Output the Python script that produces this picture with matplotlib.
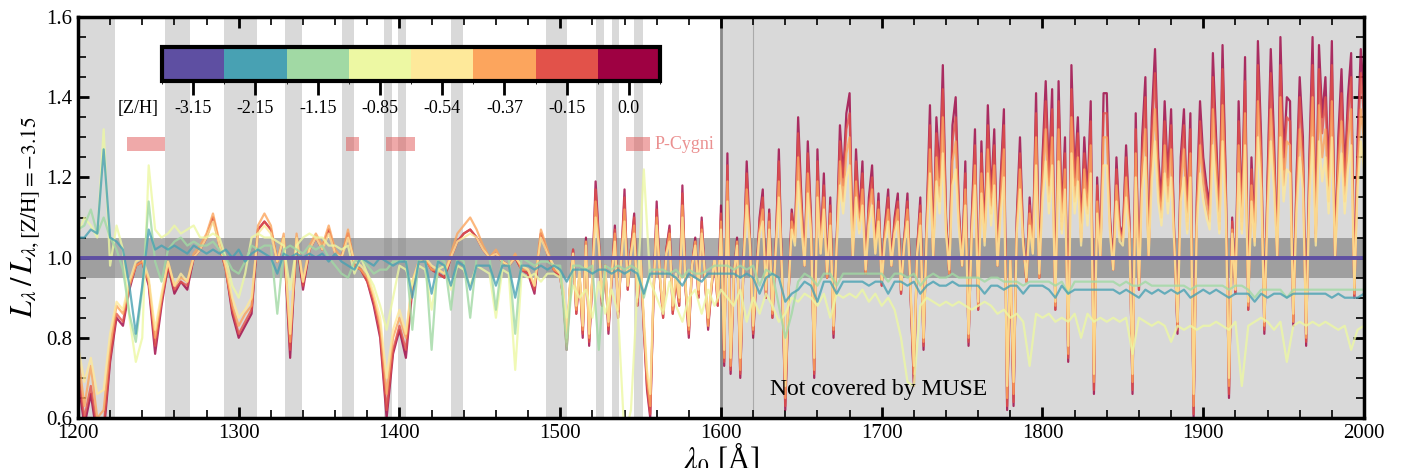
import numpy as np
import matplotlib
matplotlib.use("Agg")
import matplotlib.pyplot as plt
from matplotlib.ticker import MultipleLocator, FormatStrFormatter
from matplotlib.colors import ListedColormap, BoundaryNorm
from matplotlib.cm import ScalarMappable

plt.rcParams["font.family"] = ["Liberation Serif", "DejaVu Serif"]
plt.rcParams["mathtext.fontset"] = "stix"

# metallicities and colorbar labels
zh = [-3.15, -2.15, -1.15, -0.85, -0.54, -0.37, -0.15, 0.0]
zh_labels = ["-3.15", "-2.15", "-1.15", "-0.85", "-0.54", "-0.37", "-0.15", "0.0"]

# wavelength grids (Angstrom): 4 A steps for the low-Z models,
# metal rich models read at 4 A below 1500 A and 2 A above
wave = np.arange(1200, 2001, 4)
wave_hot = np.concatenate([np.arange(1200, 1501, 4), np.arange(1502, 2001, 2)])

# L_lambda / L_lambda([Z/H]=-3.15)
ratio_m315 = [1.0] * len(wave)

ratio_m215 = [
    1.05, 1.05, 1.07, 1.06, 1.27, 1.05, 1.04, 1.02, 0.93, 0.81,
    0.93, 1.07, 1.02, 1.03, 1.02, 1.03, 1.02, 1.01, 1.03, 1.02,
    1.01, 1.02, 1.01, 1.02, 1.00, 1.02, 0.99, 1.01, 1.02, 1.01,
    1.00, 0.96, 1.01, 1.00, 1.01, 1.00, 1.01, 1.00, 1.01, 0.99,
    1.01, 0.99, 0.98, 0.97, 1.00, 0.99, 0.98, 1.00, 0.99, 0.98,
    0.99, 0.99, 0.90, 0.99, 0.99, 0.91, 0.99, 0.98, 0.93, 0.99,
    0.98, 0.92, 0.98, 0.98, 0.98, 0.93, 0.98, 0.98, 0.90, 0.98,
    0.98, 0.97, 0.98, 0.97, 0.98, 0.97, 0.94, 0.97, 0.97, 0.97,
    0.96, 0.97, 0.97, 0.96, 0.97, 0.96, 0.97, 0.96, 0.91, 0.96,
    0.96, 0.96, 0.96, 0.95, 0.93, 0.96, 0.95, 0.94, 0.96, 0.96,
    0.96, 0.96, 0.96, 0.95, 0.96, 0.95, 0.91, 0.95, 0.96, 0.95,
    0.89, 0.91, 0.92, 0.94, 0.93, 0.89, 0.94, 0.94, 0.91, 0.94,
    0.94, 0.94, 0.94, 0.93, 0.94, 0.94, 0.91, 0.94, 0.94, 0.93,
    0.94, 0.91, 0.93, 0.94, 0.93, 0.93, 0.94, 0.93, 0.93, 0.93,
    0.93, 0.91, 0.93, 0.93, 0.92, 0.93, 0.93, 0.91, 0.93, 0.93,
    0.93, 0.92, 0.90, 0.93, 0.91, 0.92, 0.92, 0.92, 0.92, 0.92,
    0.92, 0.92, 0.91, 0.92, 0.91, 0.90, 0.92, 0.91, 0.92, 0.91,
    0.92, 0.91, 0.92, 0.90, 0.91, 0.92, 0.91, 0.92, 0.91, 0.90,
    0.91, 0.91, 0.91, 0.89, 0.91, 0.90, 0.91, 0.91, 0.90, 0.91,
    0.91, 0.91, 0.91, 0.91, 0.91, 0.90, 0.91, 0.90, 0.90, 0.90,
    0.91,
]

ratio_m115 = [
    1.07, 1.08, 1.12, 1.06, 1.10, 1.05, 1.02, 0.97, 0.86, 0.79,
    0.92, 1.14, 0.99, 0.94, 1.02, 1.04, 1.05, 1.03, 1.04, 1.03,
    1.03, 1.04, 1.02, 1.00, 0.97, 0.96, 0.99, 1.03, 1.02, 1.03,
    1.03, 0.86, 1.02, 1.03, 1.02, 1.01, 1.03, 1.02, 1.03, 1.00,
    0.98, 0.96, 0.95, 0.99, 1.00, 0.98, 0.96, 0.97, 0.97, 0.99,
    0.99, 1.00, 0.82, 1.00, 1.00, 0.77, 1.00, 0.99, 0.87, 1.00,
    0.99, 0.85, 1.00, 1.00, 1.00, 0.87, 1.00, 1.00, 0.81, 1.00,
    0.99, 0.98, 0.99, 0.99, 0.98, 0.98, 0.77, 0.98, 0.98, 0.97,
    0.98, 0.77, 0.98, 0.97, 0.98, 0.97, 0.98, 0.97, 0.90, 0.97,
    0.97, 0.97, 0.96, 0.97, 0.95, 0.97, 0.96, 0.96, 0.97, 0.98,
    0.98, 0.98, 0.97, 0.98, 0.97, 0.98, 0.93, 0.97, 0.96, 0.88,
    0.80, 0.86, 0.94, 0.96, 0.95, 0.93, 0.96, 0.96, 0.93, 0.96,
    0.96, 0.96, 0.96, 0.96, 0.96, 0.96, 0.94, 0.96, 0.96, 0.95,
    0.96, 0.93, 0.95, 0.96, 0.95, 0.95, 0.96, 0.95, 0.95, 0.95,
    0.95, 0.94, 0.95, 0.95, 0.94, 0.94, 0.94, 0.93, 0.94, 0.94,
    0.94, 0.94, 0.93, 0.94, 0.91, 0.94, 0.94, 0.94, 0.94, 0.94,
    0.94, 0.94, 0.93, 0.94, 0.93, 0.93, 0.94, 0.93, 0.93, 0.93,
    0.93, 0.93, 0.93, 0.92, 0.93, 0.93, 0.93, 0.93, 0.93, 0.92,
    0.93, 0.93, 0.92, 0.90, 0.92, 0.92, 0.92, 0.92, 0.90, 0.92,
    0.92, 0.92, 0.92, 0.92, 0.92, 0.92, 0.92, 0.92, 0.92, 0.92,
    0.92,
]

ratio_m085 = [
    1.06, 1.10, 1.08, 1.05, 1.32, 0.98, 1.08, 1.02, 0.85, 0.74,
    0.80, 1.23, 1.07, 1.05, 1.06, 1.08, 1.06, 1.07, 1.08, 1.05,
    1.05, 1.06, 1.05, 1.00, 0.93, 0.90, 0.96, 1.05, 1.06, 1.05,
    1.05, 1.04, 1.03, 0.92, 1.03, 1.05, 1.06, 1.05, 1.05, 1.03,
    1.03, 1.02, 1.03, 0.96, 1.00, 0.96, 0.93, 0.88, 0.82, 0.90,
    0.98, 0.97, 0.93, 0.98, 0.97, 0.87, 0.97, 0.98, 0.92, 0.98,
    0.97, 0.93, 0.98, 0.97, 0.96, 0.85, 0.97, 0.96, 0.72, 0.96,
    0.95, 0.96, 0.94, 0.96, 0.96, 0.95, 0.85, 0.93, 0.90, 0.92,
    0.85, 0.94, 0.86, 0.92, 0.86, 0.55, 0.62, 0.92, 1.22, 0.94,
    0.90, 0.86, 0.94, 0.88, 0.84, 0.90, 0.92, 0.86, 0.92, 0.88,
    0.92, 0.90, 0.88, 0.92, 0.84, 0.90, 0.86, 0.91, 0.88, 0.84,
    0.86, 0.90, 0.89, 0.91, 0.90, 0.88, 0.91, 0.85, 0.91, 0.90,
    0.91, 0.90, 0.92, 0.89, 0.91, 0.88, 0.90, 0.87, 0.80, 0.69,
    0.68, 0.88, 0.90, 0.89, 0.88, 0.89, 0.88, 0.89, 0.88, 0.87,
    0.88, 0.89, 0.88, 0.86, 0.87, 0.85, 0.86, 0.84, 0.73, 0.86,
    0.85, 0.86, 0.84, 0.85, 0.84, 0.86, 0.80, 0.86, 0.84, 0.85,
    0.84, 0.85, 0.84, 0.85, 0.76, 0.85, 0.84, 0.83, 0.84, 0.83,
    0.79, 0.83, 0.82, 0.83, 0.82, 0.83, 0.83, 0.84, 0.83, 0.82,
    0.84, 0.68, 0.83, 0.84, 0.85, 0.84, 0.82, 0.84, 0.74, 0.83,
    0.84, 0.83, 0.84, 0.83, 0.84, 0.83, 0.82, 0.83, 0.77, 0.82,
    0.83,
]

# metal rich models on wave_hot (76 values to 1500 A, then 250 values at 2 A)
ratio_m054 = [
    0.78, 0.69, 0.75, 0.66, 0.67, 0.81, 0.89, 0.87, 0.94, 0.99,
    1.00, 0.95, 0.82, 0.91, 0.99, 0.93, 0.96, 0.94, 1.00, 1.02,
    1.05, 1.09, 1.03, 0.98, 0.90, 0.85, 0.87, 0.90, 1.06, 1.08,
    1.06, 0.99, 1.05, 0.81, 1.05, 0.94, 1.02, 1.05, 1.02, 1.06,
    1.01, 1.00, 1.05, 0.99, 0.98, 0.96, 0.91, 0.85, 0.70, 0.82,
    0.87, 0.81, 0.94, 0.99, 1.00, 0.98, 0.97, 0.96, 1.00, 1.04,
    1.05, 1.06, 1.05, 1.02, 1.00, 1.01, 0.99, 0.98, 1.00, 0.98,
    0.97, 0.93, 1.05, 1.01, 0.98, 0.96,
    0.92, 0.80, 0.93, 1.01, 0.88, 0.97, 0.83, 1.03, 0.81, 0.96,
    1.10, 1.03, 0.90, 0.98, 0.84, 0.96, 1.04, 0.87, 1.00, 1.09,
    0.93, 1.01, 1.06, 0.90, 1.00, 0.85, 0.72, 0.66, 0.92, 1.08,
    0.96, 0.87, 1.01, 1.04, 0.88, 0.96, 0.90, 1.10, 0.93, 0.83,
    0.98, 1.03, 0.92, 1.06, 0.96, 0.85, 0.93, 1.00, 0.90, 1.07,
    0.77, 1.14, 0.75, 0.96, 1.03, 0.75, 0.98, 1.13, 1.03, 0.83,
    0.96, 1.06, 1.09, 0.92, 1.07, 0.87, 1.01, 1.15, 0.96, 0.68,
    0.92, 1.07, 1.03, 1.19, 1.08, 0.98, 1.16, 1.06, 0.75, 1.15,
    1.01, 1.12, 0.96, 1.08, 0.83, 1.03, 1.18, 1.11, 1.20, 1.23,
    1.00, 1.15, 1.06, 1.13, 0.97, 1.08, 1.13, 1.01, 1.09, 0.94,
    1.04, 1.09, 0.98, 1.06, 1.09, 0.92, 1.03, 1.09, 0.92, 0.73,
    1.01, 1.08, 0.80, 1.06, 1.21, 1.00, 1.19, 1.11, 1.26, 1.06,
    0.97, 1.18, 1.22, 1.07, 0.98, 1.13, 0.81, 1.06, 1.18, 0.89,
    1.16, 1.03, 1.21, 1.08, 1.18, 0.98, 1.11, 1.20, 0.68, 1.00,
    0.69, 1.06, 1.17, 1.03, 0.95, 1.08, 1.01, 1.23, 0.96, 1.14,
    1.24, 1.11, 1.23, 0.89, 1.24, 1.06, 1.17, 0.78, 1.26, 1.11,
    1.19, 1.03, 1.17, 1.08, 1.21, 0.71, 1.11, 1.00, 1.23, 1.23,
    1.06, 0.97, 1.14, 1.04, 1.03, 1.15, 1.06, 0.71, 1.20, 0.93,
    1.17, 1.25, 1.00, 1.19, 1.29, 1.14, 1.08, 1.21, 1.11, 1.20,
    1.03, 0.84, 1.14, 1.20, 1.06, 1.20, 0.66, 1.08, 1.21, 1.14,
    1.10, 1.07, 1.28, 1.17, 1.06, 1.29, 1.11, 0.70, 1.06, 0.92,
    1.21, 1.06, 1.28, 0.89, 1.14, 1.03, 1.30, 1.17, 0.84, 1.11,
    1.29, 1.17, 1.00, 1.30, 1.14, 1.22, 1.21, 0.86, 1.11, 1.25,
    1.17, 0.81, 1.14, 1.30, 1.03, 1.29, 1.19, 1.25, 1.11, 1.30,
    1.00, 1.17, 1.26, 1.11, 1.22, 1.28, 0.92, 1.17, 1.29, 1.22,
]

ratio_m037 = [
    0.76, 0.63, 0.73, 0.60, 0.62, 0.78, 0.88, 0.86, 0.93, 0.98,
    0.99, 0.94, 0.80, 0.90, 0.99, 0.93, 0.95, 0.94, 1.01, 1.03,
    1.06, 1.11, 1.04, 0.97, 0.88, 0.83, 0.86, 0.88, 1.08, 1.11,
    1.08, 0.99, 1.06, 0.79, 1.06, 0.94, 1.03, 1.06, 1.03, 1.08,
    1.02, 1.00, 1.07, 0.98, 0.97, 0.95, 0.90, 0.83, 0.66, 0.80,
    0.85, 0.80, 0.94, 0.99, 1.00, 0.97, 0.97, 0.96, 1.01, 1.06,
    1.08, 1.10, 1.07, 1.03, 1.00, 1.02, 0.99, 0.98, 1.01, 0.97,
    0.97, 0.93, 1.07, 1.02, 0.97, 0.96,
    0.91, 0.79, 0.93, 1.01, 0.87, 0.96, 0.82, 1.04, 0.80, 0.95,
    1.14, 1.04, 0.89, 0.98, 0.83, 0.95, 1.06, 0.86, 1.00, 1.12,
    0.93, 1.01, 1.08, 0.89, 1.00, 0.83, 0.70, 0.63, 0.91, 1.10,
    0.95, 0.86, 1.01, 1.06, 0.87, 0.95, 0.89, 1.13, 0.93, 0.82,
    0.98, 1.04, 0.91, 1.07, 0.95, 0.83, 0.93, 1.00, 0.89, 1.09,
    0.75, 1.19, 0.73, 0.95, 1.04, 0.72, 0.98, 1.17, 1.04, 0.82,
    0.95, 1.07, 1.12, 0.91, 1.09, 0.86, 1.01, 1.19, 0.95, 0.65,
    0.91, 1.09, 1.04, 1.25, 1.11, 0.98, 1.21, 1.07, 0.72, 1.19,
    1.01, 1.15, 0.95, 1.11, 0.82, 1.04, 1.24, 1.14, 1.26, 1.30,
    1.00, 1.19, 1.07, 1.17, 0.96, 1.11, 1.17, 1.01, 1.12, 0.94,
    1.06, 1.12, 0.98, 1.07, 1.12, 0.92, 1.04, 1.12, 0.91, 0.71,
    1.01, 1.11, 0.79, 1.07, 1.27, 1.00, 1.25, 1.14, 1.35, 1.07,
    0.96, 1.24, 1.29, 1.09, 0.98, 1.17, 0.80, 1.07, 1.23, 0.88,
    1.21, 1.04, 1.27, 1.11, 1.23, 0.98, 1.14, 1.27, 0.65, 1.00,
    0.66, 1.07, 1.22, 1.04, 0.94, 1.11, 1.01, 1.30, 0.95, 1.18,
    1.32, 1.14, 1.30, 0.88, 1.32, 1.07, 1.22, 0.76, 1.35, 1.14,
    1.25, 1.04, 1.22, 1.11, 1.28, 0.69, 1.14, 1.00, 1.30, 1.30,
    1.07, 0.97, 1.18, 1.06, 1.04, 1.20, 1.07, 0.69, 1.26, 0.93,
    1.22, 1.32, 1.00, 1.25, 1.37, 1.18, 1.10, 1.28, 1.14, 1.27,
    1.04, 0.83, 1.18, 1.27, 1.07, 1.26, 0.63, 1.11, 1.28, 1.18,
    1.13, 1.09, 1.37, 1.22, 1.07, 1.38, 1.14, 0.68, 1.07, 0.92,
    1.28, 1.07, 1.36, 0.88, 1.18, 1.04, 1.39, 1.22, 0.83, 1.14,
    1.37, 1.22, 1.00, 1.40, 1.18, 1.29, 1.28, 0.84, 1.14, 1.32,
    1.22, 0.80, 1.18, 1.40, 1.04, 1.38, 1.25, 1.32, 1.14, 1.39,
    1.00, 1.22, 1.34, 1.14, 1.29, 1.37, 0.91, 1.22, 1.37, 1.29,
]

ratio_m015 = [
    0.72, 0.60, 0.68, 0.57, 0.58, 0.75, 0.86, 0.84, 0.93, 0.98,
    0.99, 0.94, 0.78, 0.89, 0.98, 0.92, 0.94, 0.93, 1.00, 1.02,
    1.05, 1.10, 1.03, 0.97, 0.87, 0.81, 0.84, 0.87, 1.07, 1.09,
    1.07, 0.99, 1.05, 0.77, 1.05, 0.93, 1.02, 1.05, 1.02, 1.07,
    1.01, 1.00, 1.06, 0.98, 0.97, 0.94, 0.89, 0.81, 0.62, 0.77,
    0.83, 0.77, 0.93, 0.99, 1.00, 0.97, 0.96, 0.95, 1.00, 1.04,
    1.06, 1.07, 1.05, 1.02, 1.00, 1.01, 0.99, 0.98, 1.00, 0.97,
    0.96, 0.92, 1.06, 1.01, 0.97, 0.95,
    0.90, 0.78, 0.92, 1.02, 0.86, 0.96, 0.81, 1.04, 0.79, 0.95,
    1.17, 1.04, 0.88, 0.98, 0.82, 0.95, 1.07, 0.85, 1.00, 1.15,
    0.92, 1.02, 1.10, 0.88, 1.00, 0.83, 0.68, 0.61, 0.90, 1.12,
    0.95, 0.85, 1.02, 1.07, 0.86, 0.95, 0.88, 1.16, 0.92, 0.81,
    0.98, 1.04, 0.90, 1.09, 0.95, 0.83, 0.92, 1.00, 0.88, 1.11,
    0.74, 1.23, 0.72, 0.95, 1.04, 0.71, 0.98, 1.21, 1.04, 0.81,
    0.95, 1.09, 1.15, 0.90, 1.11, 0.85, 1.02, 1.24, 0.95, 0.63,
    0.90, 1.11, 1.04, 1.31, 1.13, 0.98, 1.26, 1.09, 0.71, 1.24,
    1.02, 1.18, 0.95, 1.13, 0.81, 1.04, 1.29, 1.18, 1.32, 1.36,
    1.00, 1.24, 1.09, 1.21, 0.96, 1.13, 1.20, 1.02, 1.14, 0.93,
    1.07, 1.15, 0.98, 1.09, 1.14, 0.91, 1.04, 1.14, 0.90, 0.69,
    1.02, 1.13, 0.78, 1.09, 1.33, 1.00, 1.31, 1.18, 1.42, 1.09,
    0.96, 1.29, 1.35, 1.11, 0.98, 1.21, 0.79, 1.09, 1.28, 0.87,
    1.26, 1.04, 1.33, 1.13, 1.28, 0.98, 1.18, 1.33, 0.63, 1.00,
    0.64, 1.09, 1.26, 1.04, 0.94, 1.13, 1.02, 1.36, 0.95, 1.22,
    1.39, 1.18, 1.37, 0.87, 1.39, 1.09, 1.26, 0.75, 1.42, 1.18,
    1.31, 1.05, 1.26, 1.13, 1.34, 0.67, 1.18, 1.00, 1.36, 1.36,
    1.09, 0.97, 1.22, 1.07, 1.05, 1.25, 1.09, 0.67, 1.32, 0.92,
    1.26, 1.40, 1.00, 1.31, 1.46, 1.22, 1.12, 1.34, 1.18, 1.33,
    1.04, 0.82, 1.22, 1.33, 1.09, 1.32, 0.61, 1.13, 1.34, 1.22,
    1.16, 1.11, 1.45, 1.26, 1.09, 1.47, 1.18, 0.66, 1.09, 0.91,
    1.34, 1.09, 1.44, 0.87, 1.22, 1.04, 1.48, 1.26, 0.82, 1.18,
    1.46, 1.26, 1.00, 1.48, 1.22, 1.35, 1.34, 0.84, 1.18, 1.40,
    1.26, 0.79, 1.22, 1.48, 1.05, 1.47, 1.31, 1.40, 1.18, 1.48,
    1.00, 1.26, 1.41, 1.18, 1.35, 1.45, 0.90, 1.26, 1.46, 1.35,
]

ratio_p000 = [
    0.70, 0.58, 0.66, 0.55, 0.56, 0.74, 0.85, 0.83, 0.92, 0.98,
    0.99, 0.93, 0.76, 0.88, 0.98, 0.91, 0.94, 0.92, 1.00, 1.02,
    1.05, 1.10, 1.03, 0.97, 0.86, 0.80, 0.83, 0.86, 1.07, 1.09,
    1.07, 0.99, 1.05, 0.75, 1.05, 0.92, 1.02, 1.05, 1.02, 1.07,
    1.01, 1.00, 1.06, 0.98, 0.97, 0.94, 0.88, 0.80, 0.60, 0.76,
    0.82, 0.75, 0.92, 0.99, 1.00, 0.97, 0.96, 0.95, 1.00, 1.04,
    1.06, 1.07, 1.05, 1.02, 1.00, 1.01, 0.99, 0.98, 1.00, 0.97,
    0.96, 0.91, 1.06, 1.01, 0.97, 0.95,
    0.90, 0.77, 0.92, 1.02, 0.86, 0.96, 0.80, 1.05, 0.78, 0.95,
    1.19, 1.05, 0.88, 0.98, 0.81, 0.95, 1.08, 0.85, 1.00, 1.17,
    0.92, 1.02, 1.11, 0.88, 1.00, 0.82, 0.67, 0.60, 0.90, 1.14,
    0.95, 0.85, 1.02, 1.08, 0.86, 0.95, 0.88, 1.18, 0.92, 0.80,
    0.98, 1.05, 0.90, 1.10, 0.95, 0.82, 0.92, 1.00, 0.88, 1.13,
    0.73, 1.26, 0.71, 0.95, 1.05, 0.70, 0.98, 1.24, 1.05, 0.80,
    0.95, 1.10, 1.17, 0.90, 1.12, 0.85, 1.02, 1.27, 0.95, 0.62,
    0.90, 1.12, 1.05, 1.35, 1.15, 0.98, 1.29, 1.10, 0.70, 1.27,
    1.02, 1.21, 0.95, 1.15, 0.80, 1.05, 1.33, 1.20, 1.36, 1.41,
    1.00, 1.27, 1.10, 1.24, 0.96, 1.15, 1.23, 1.02, 1.16, 0.93,
    1.08, 1.17, 0.98, 1.10, 1.16, 0.91, 1.05, 1.16, 0.90, 0.68,
    1.02, 1.15, 0.77, 1.10, 1.38, 1.00, 1.35, 1.20, 1.48, 1.10,
    0.96, 1.33, 1.40, 1.12, 0.98, 1.24, 0.78, 1.10, 1.32, 0.87,
    1.29, 1.05, 1.38, 1.15, 1.32, 0.98, 1.20, 1.37, 0.62, 1.00,
    0.63, 1.10, 1.30, 1.05, 0.94, 1.15, 1.02, 1.41, 0.95, 1.25,
    1.44, 1.20, 1.42, 0.87, 1.44, 1.10, 1.30, 0.74, 1.48, 1.20,
    1.35, 1.06, 1.30, 1.15, 1.39, 0.66, 1.20, 1.00, 1.41, 1.41,
    1.10, 0.97, 1.25, 1.08, 1.06, 1.28, 1.10, 0.66, 1.36, 0.92,
    1.30, 1.45, 1.00, 1.35, 1.52, 1.25, 1.14, 1.39, 1.20, 1.37,
    1.05, 0.81, 1.25, 1.37, 1.10, 1.36, 0.60, 1.15, 1.39, 1.25,
    1.18, 1.13, 1.51, 1.30, 1.10, 1.53, 1.20, 0.65, 1.10, 0.91,
    1.39, 1.10, 1.50, 0.87, 1.25, 1.05, 1.54, 1.30, 0.81, 1.20,
    1.52, 1.30, 1.00, 1.55, 1.25, 1.40, 1.39, 0.83, 1.20, 1.45,
    1.30, 0.78, 1.25, 1.55, 1.06, 1.53, 1.35, 1.45, 1.20, 1.54,
    1.00, 1.30, 1.47, 1.20, 1.40, 1.51, 0.90, 1.30, 1.52, 1.40,
]

series = [ratio_m315, ratio_m215, ratio_m115, ratio_m085,
          ratio_m054, ratio_m037, ratio_m015, ratio_p000]
grids = [wave, wave, wave, wave, wave_hot, wave_hot, wave_hot, wave_hot]

# wavelength windows shaded in light grey
masked = [(1200, 1223), (1254, 1269.5), (1291, 1311.5), (1329, 1339.5),
          (1364, 1372), (1390.5, 1395.5), (1399, 1404), (1432, 1439.5),
          (1491, 1504.5), (1522, 1527.5), (1532, 1536.5), (1546, 1551.5)]

# P-Cygni features
pcygni = [(1230.5, 1254.3), (1366.5, 1374.8), (1391.5, 1409.8), (1541.2, 1555.6)]

cmap = plt.get_cmap("Spectral_r", len(zh))
colors = [cmap(i) for i in range(len(zh))]

fig = plt.figure(figsize=(14.02, 4.68), dpi=100)
ax = fig.add_axes([0.0556, 0.1068, 0.9173, 0.8569])

for lo, hi in masked:
    ax.axvspan(lo, hi, color="#d9d9d9", lw=0, zorder=0)
ax.axvspan(1600, 2000, color="#d9d9d9", lw=0, zorder=0)
ax.axvline(1600, color="#888888", lw=2, zorder=0.6)
ax.axvline(1620, color="#aaaaaa", lw=0.8, zorder=0.6)
ax.axhspan(0.95, 1.05, color="gray", alpha=0.65, lw=0, zorder=0.5)

for lo, hi in pcygni:
    ax.axhspan(1.267, 1.30, xmin=(lo - 1200) / 800, xmax=(hi - 1200) / 800,
               color="#e05555", alpha=0.5, lw=0, zorder=1)
ax.text(1558.5, 1.283, "P-Cygni", color="#e05555", alpha=0.65,
        fontsize=13, va="center", ha="left")

# metal rich first, so the metal poor models end up on top
for i in range(len(zh) - 1, 0, -1):
    ax.plot(grids[i], series[i], color=colors[i], lw=1.6, alpha=0.8, zorder=2)
ax.plot(grids[0], series[0], color=colors[0], lw=2.8, zorder=3)

ax.text(1630.5, 0.657, "Not covered by MUSE", fontsize=17, color="black")

ax.set_xlim(1200, 2000)
ax.set_ylim(0.6, 1.6)
ax.xaxis.set_major_locator(MultipleLocator(100))
ax.xaxis.set_minor_locator(MultipleLocator(20))
ax.yaxis.set_major_locator(MultipleLocator(0.2))
ax.yaxis.set_minor_locator(MultipleLocator(0.05))
ax.yaxis.set_major_formatter(FormatStrFormatter("%.1f"))
ax.tick_params(which="both", direction="in", top=True, right=True, labelsize=15)
ax.tick_params(which="major", length=8, width=2, pad=4)
ax.tick_params(which="minor", length=5.5, width=1.2)
for sp in ax.spines.values():
    sp.set_linewidth(2.5)
    sp.set_zorder(5)

ax.set_xlabel(r"$\lambda_0$ [Å]", fontsize=22, labelpad=-1)
ax.set_ylabel(r"$L_\lambda\,/\,L_{\lambda,\mathrm{[Z/H]}=-3.15}$", fontsize=22, labelpad=2)

# discrete colorbar for [Z/H]
cax = fig.add_axes([0.1156, 0.8278, 0.3552, 0.0727])
norm = BoundaryNorm(np.arange(len(zh) + 1), len(zh))
sm = ScalarMappable(norm=norm, cmap=ListedColormap(colors))
cb = fig.colorbar(sm, cax=cax, orientation="horizontal")
cb.set_ticks(np.arange(len(zh)) + 0.5, labels=zh_labels)
cb.outline.set_linewidth(3)
cax.tick_params(length=10, width=2, labelsize=13, direction="out", pad=4)
fig.text(0.0984, 0.769, "[Z/H]", fontsize=13, ha="center", va="center")

fig.savefig("out.png", dpi=100)
